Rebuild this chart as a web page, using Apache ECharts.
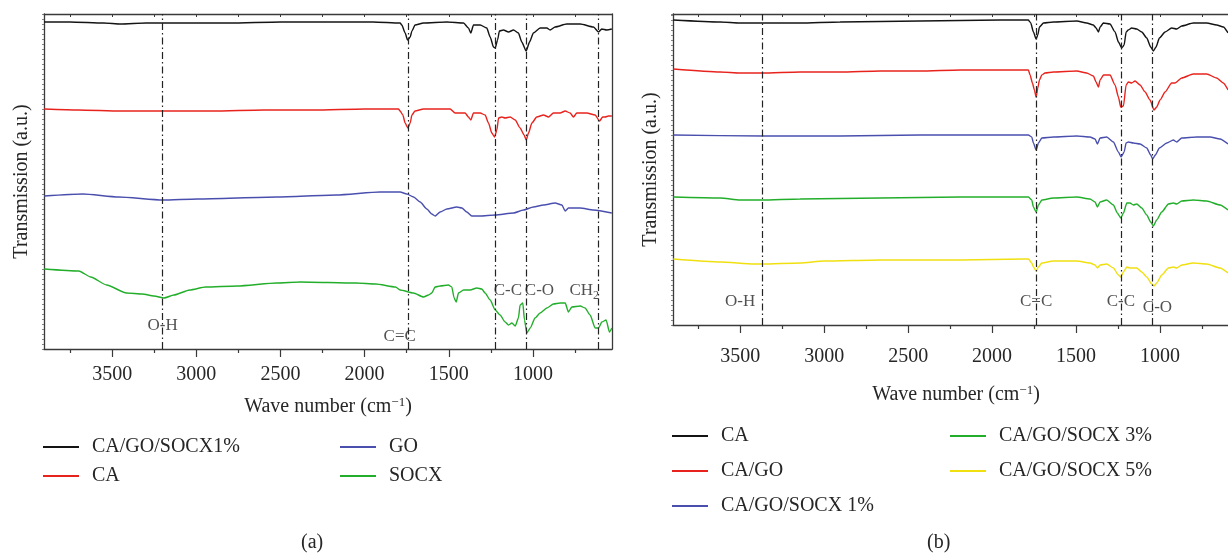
<!DOCTYPE html>
<html><head><meta charset="utf-8">
<script src="https://cdn.jsdelivr.net/npm/echarts@6/dist/echarts.min.js"></script>
<style>html,body{margin:0;padding:0;background:#fff}#c{width:1228px;height:553px}</style>
</head><body><div id="c"></div>
<script>
// ---------- data ----------
const majorTicks = [1000, 1500, 2000, 2500, 3000, 3500];
const minorTicks = [750, 1250, 1750, 2250, 2750, 3250, 3750];
const allTicks = [750, 1000, 1250, 1500, 1750, 2000, 2250, 2500, 2750, 3000, 3250, 3500, 3750];

const namesA = ['CA/GO/SOCX1%', 'CA', 'GO', 'SOCX'];
const namesB = ['CA', 'CA/GO', 'CA/GO/SOCX 1%', 'CA/GO/SOCX 3%', 'CA/GO/SOCX 5%'];

const peaksA = [3200, 1738, 1226, 1038, 612];
const peakLabelsA = ['O-H', 'C=C', 'C-C', 'C-O', 'CH{s|2}'];
const peaksB = [3369, 1738, 1233, 1045];
const peakLabelsB = ['O-H', 'C=C', 'C-C', 'C-O'];

// panel (a) spectra: [wave number, transmission (a.u.)]
const a_cagosocx1 = [[3904,327],[3750,327],[3550,326],[3450,325],[3300,326],[3200,326],[3000,326],[2800,326],[2500,327],[2200,327],[1950,327],[1789,326],[1779,324],[1759,316],[1745,309],[1729,312],[1719,318],[1700,324],[1650,326],[1512,327],[1412,326],[1383,321],[1369,316],[1353,324],[1313,324],[1274,321],[1254,312],[1234,302],[1224,301],[1210,309],[1199,318],[1175,319],[1145,317],[1115,319],[1086,316],[1066,307],[1040,298],[1020,307],[997,316],[957,321],[917,321],[898,319],[868,322],[799,325],[719,325],[640,322],[610,317],[591,320],[561,319],[531,320]];
const a_ca = [[3904,240],[3700,239],[3450,238],[3200,238],[2900,238],[2600,239],[2300,239],[2000,240],[1908,240],[1799,240],[1789,238],[1773,234],[1759,226],[1743,221],[1729,226],[1719,234],[1700,238],[1650,240],[1492,240],[1462,236],[1403,236],[1383,232],[1369,229],[1353,236],[1313,236],[1284,234],[1264,226],[1244,216],[1228,212],[1214,219],[1204,231],[1185,232],[1165,231],[1135,232],[1105,229],[1076,221],[1052,214],[1040,209],[1026,216],[1006,226],[977,232],[937,234],[907,232],[878,236],[838,236],[808,238],[779,236],[759,232],[739,236],[680,236],[630,234],[604,228],[585,232],[571,232],[551,233],[531,233]];
const a_go = [[3904,153],[3674,155],[3462,152],[3200,149],[2992,150],[2522,152],[2169,154],[1908,157],[1789,157],[1749,155],[1709,152],[1670,147],[1630,140],[1601,135],[1581,133],[1551,137],[1511,140],[1452,142],[1422,141],[1393,137],[1363,133],[1313,133],[1224,134],[1115,136],[1056,139],[997,142],[937,144],[868,146],[828,144],[808,138],[789,141],[719,141],[640,139],[531,136]];
const a_socx = [[3904,80],[3698,78],[3627,72],[3533,64],[3415,56],[3321,55],[3251,53],[3192,51],[3133,54],[3039,59],[2945,62],[2757,63],[2522,66],[2381,67],[2051,66],[1934,65],[1816,62],[1789,59],[1710,56],[1650,52],[1620,54],[1601,56],[1581,62],[1551,63],[1502,64],[1482,62],[1468,51],[1456,47],[1442,56],[1412,59],[1373,59],[1333,61],[1304,60],[1284,56],[1254,49],[1224,39],[1195,34],[1165,27],[1145,24],[1125,26],[1105,23],[1086,31],[1076,44],[1060,46],[1050,29],[1036,16],[1016,21],[987,31],[957,36],[917,41],[878,45],[838,46],[808,46],[789,37],[769,42],[719,43],[690,41],[660,34],[630,21],[610,21],[590,27],[565,29],[545,17],[531,21]];

// panel (b) spectra
const b_ca = [[3898,305],[3619,303],[3500,302],[3369,302],[3143,302],[2905,303],[2429,304],[1952,305],[1784,305],[1770,302],[1754,293],[1738,286],[1728,290],[1718,298],[1694,302],[1635,303],[1496,304],[1437,302],[1397,300],[1381,297],[1367,293],[1357,298],[1337,302],[1298,301],[1268,293],[1248,283],[1228,277],[1214,280],[1202,293],[1189,295],[1169,297],[1139,296],[1109,293],[1079,287],[1056,278],[1040,274],[1024,278],[1004,287],[970,293],[931,297],[901,296],[871,299],[802,302],[722,302],[663,300],[623,298],[595,292]];
const b_cago = [[3898,256],[3619,253],[3500,252],[3369,252],[3143,253],[2905,253],[2667,254],[2429,254],[2190,255],[1952,255],[1784,255],[1774,250],[1760,242],[1748,235],[1738,228],[1728,237],[1718,245],[1704,250],[1685,252],[1635,253],[1496,254],[1437,252],[1397,249],[1381,243],[1367,238],[1357,245],[1337,250],[1298,250],[1268,240],[1248,228],[1234,218],[1218,219],[1202,240],[1189,243],[1169,242],[1149,244],[1119,240],[1089,233],[1060,225],[1036,215],[1020,218],[1000,225],[970,233],[931,242],[911,242],[871,247],[802,251],[722,251],[663,247],[623,242],[595,235]];
const b_socx1 = [[3898,190],[3369,189],[2905,189],[2429,190],[1952,190],[1784,190],[1764,188],[1754,182],[1738,175],[1724,182],[1704,187],[1635,188],[1496,189],[1417,188],[1387,186],[1373,181],[1357,187],[1318,188],[1278,183],[1248,173],[1232,168],[1214,173],[1202,182],[1189,183],[1159,182],[1119,181],[1079,177],[1056,170],[1044,166],[1028,170],[1004,177],[960,182],[921,185],[901,183],[871,187],[782,188],[702,188],[643,186],[595,181]];
const b_socx3 = [[3898,128],[3619,127],[3500,125],[3369,125],[3143,126],[2667,127],[2190,128],[1810,128],[1784,128],[1764,125],[1754,118],[1738,113],[1724,120],[1704,125],[1635,127],[1496,128],[1417,126],[1387,123],[1373,118],[1357,123],[1318,125],[1278,120],[1254,112],[1234,107],[1218,112],[1198,122],[1179,122],[1159,120],[1139,121],[1109,117],[1079,110],[1056,103],[1040,99],[1020,105],[990,113],[950,121],[921,122],[901,121],[871,124],[802,125],[722,124],[643,120],[595,115]];
const b_socx5 = [[3898,66],[3619,63],[3417,61],[3369,61],[3143,62],[3000,64],[2667,65],[2190,65],[1810,66],[1784,66],[1764,62],[1754,58],[1738,54],[1724,58],[1704,62],[1635,64],[1496,64],[1417,62],[1387,60],[1373,57],[1357,60],[1318,61],[1278,57],[1248,50],[1234,48],[1218,53],[1198,58],[1179,57],[1159,57],[1139,57],[1109,53],[1079,48],[1050,41],[1036,39],[1020,42],[990,50],[950,57],[921,58],[901,57],[871,60],[802,62],[722,61],[643,57],[595,52]];

// ---------- style ----------
const FONT = '"Liberation Serif", "DejaVu Serif", serif';
const TXT = '#262626';
const AX = '#3a3a3a';
const colorsA = ['#141414', '#e8231d', '#4a4fae', '#22ae2a'];
const colorsB = ['#141414', '#e8231d', '#4a4fae', '#22ae2a', '#f0e010'];
const dataA = [a_cagosocx1, a_ca, a_go, a_socx];
const dataB = [b_ca, b_cago, b_socx1, b_socx3, b_socx5];

const grids = [
  {left: 44, top: 14, width: 568, height: 335, outerBoundsMode: 'none'},   // 0 panel a
  {left: 44, top: 14, width: 568, height: 335, outerBoundsMode: 'none'},   // 1 panel a (minor ticks)
  {left: 673, top: 14, width: 566, height: 311, outerBoundsMode: 'none'},  // 2 panel b
  {left: 673, top: 14, width: 566, height: 311, outerBoundsMode: 'none'}   // 3 panel b (minor ticks)
];
const X = {a: [530, 3905], b: [530, 3900]};
const Y = {a: 335, b: 311};

function xMain(gi, ext, gap, nameGap) {
  return {
    type: 'value', gridIndex: gi, inverse: true, min: ext[0], max: ext[1], position: 'bottom',
    axisLine: {onZero: false, lineStyle: {color: AX, width: 1.3}},
    axisTick: {customValues: majorTicks, length: 8, lineStyle: {color: AX, width: 1.2}},
    axisLabel: {customValues: majorTicks, margin: gap, fontSize: 20, fontFamily: FONT, color: TXT,
      formatter: v => String(v)},
    splitLine: {show: false},
    name: 'Wave number (cm{sup|−1})', nameLocation: 'middle', nameGap: nameGap,
    nameTextStyle: {fontSize: 20, fontFamily: FONT, color: TXT,
      rich: {sup: {fontSize: 13, fontFamily: FONT, color: TXT, verticalAlign: 'bottom', padding: [0, 0, 9, 0]}}}
  };
}
function xTop(gi, ext) {
  return {
    type: 'value', gridIndex: gi, inverse: true, min: ext[0], max: ext[1], position: 'top',
    axisLine: {onZero: false, lineStyle: {color: AX, width: 1.3}},
    axisTick: {customValues: allTicks, inside: true, length: 3, lineStyle: {color: AX}},
    axisLabel: {show: false}, splitLine: {show: false}
  };
}
function xMinor(gi, ext) {
  return {
    type: 'value', gridIndex: gi, inverse: true, min: ext[0], max: ext[1], position: 'bottom',
    axisLine: {show: false, onZero: false},
    axisTick: {customValues: minorTicks, length: 4, lineStyle: {color: AX, width: 1.2}},
    axisLabel: {show: false}, splitLine: {show: false}
  };
}
function yLeft(gi, max, gap) {
  return {
    type: 'value', gridIndex: gi, min: 0, max: max, interval: 5, position: 'left',
    axisLine: {show: true, onZero: false, lineStyle: {color: AX, width: 1.3}},
    axisTick: {show: true, length: 2, lineStyle: {color: '#666', width: 0.8}},
    axisLabel: {show: false}, splitLine: {show: false},
    name: 'Transmission (a.u.)', nameLocation: 'middle', nameGap: gap, nameRotate: 90,
    nameTextStyle: {fontSize: 20, fontFamily: FONT, color: TXT}
  };
}
function yRight(gi, max) {
  return {
    type: 'value', gridIndex: gi, min: 0, max: max, position: 'right',
    axisLine: {show: true, onZero: false, lineStyle: {color: AX, width: 1.3}},
    axisTick: {show: false}, axisLabel: {show: false}, splitLine: {show: false}
  };
}
function yHidden(gi, max) {
  return {type: 'value', gridIndex: gi, min: 0, max: max, show: false};
}

const xAxis = [
  xMain(0, X.a, 16, 47), xTop(0, X.a), xMinor(1, X.a),
  xMain(2, X.b, 22, 59), xTop(2, X.b), xMinor(3, X.b)
];
const yAxis = [
  yLeft(0, Y.a, 12), yRight(0, Y.a), yHidden(1, Y.a),
  yLeft(2, Y.b, 12), yRight(2, Y.b), yHidden(3, Y.b)
];

const dashStyle = {color: '#222', width: 1.2, type: [7, 3, 1.5, 3]};
const series = [];
function addPanel(prefix, names, colors, datas, xi, yi, peaks) {
  names.forEach((n, i) => {
    const s = {
      type: 'line', name: prefix + n, xAxisIndex: xi, yAxisIndex: yi, data: datas[i],
      showSymbol: false, symbol: 'none', smooth: 0.2, smoothMonotone: 'x',
      lineStyle: {color: colors[i], width: 1.4}, itemStyle: {color: colors[i]},
      emphasis: {disabled: true}, animation: false
    };
    if (i === 0) {
      s.markLine = {silent: true, symbol: 'none', label: {show: false}, lineStyle: dashStyle,
        animation: false, data: peaks.map(w => ({xAxis: w}))};
    }
    series.push(s);
  });
}
addPanel('a:', namesA, colorsA, dataA, 0, 0, peaksA);
addPanel('b:', namesB, colorsB, dataB, 3, 3, peaksB);

// peak annotations (placement kept with the styling)
const annA = [[peaksA[0], 23, 0], [peaksA[1], 12, -9], [peaksA[2], 58, 13], [peaksA[3], 58, 13], [peaksA[4], 58, -14]];
const annB = [[peaksB[0], 23, -22], [peaksB[1], 23, 0], [peaksB[2], 23, 0], [peaksB[3], 17, 5]];
function annSeries(ann, labels, xi, yi) {
  return {
    type: 'scatter', xAxisIndex: xi, yAxisIndex: yi, symbolSize: 1, silent: true, animation: false,
    itemStyle: {color: 'rgba(0,0,0,0)'}, z: 5,
    label: {show: true, position: 'inside', fontSize: 17, fontFamily: FONT, color: TXT,
      formatter: p => p.name, rich: {s: {fontSize: 12, fontFamily: FONT, color: TXT, padding: [10, 0, 0, 0]}}},
    data: ann.map((a, i) => ({name: labels[i], value: [a[0], a[1]], label: {offset: [a[2], 0]}}))
  };
}
series.push(annSeries(annA, peakLabelsA, 0, 0));
series.push(annSeries(annB, peakLabelsB, 3, 3));

const legendBase = {
  orient: 'vertical', icon: 'rect', itemWidth: 36, itemHeight: 2, padding: 0,
  selectedMode: false, formatter: n => n.slice(2),
  textStyle: {fontSize: 20, fontFamily: FONT, color: TXT, lineHeight: 20, padding: [0, 0, 0, 8]}
};
const legend = [
  Object.assign({}, legendBase, {left: 43, top: 437, itemGap: 9, data: ['a:' + namesA[0], 'a:' + namesA[1]]}),
  Object.assign({}, legendBase, {left: 340, top: 437, itemGap: 9, data: ['a:' + namesA[2], 'a:' + namesA[3]]}),
  Object.assign({}, legendBase, {left: 672, top: 426, itemGap: 15, data: namesB.slice(0, 3).map(n => 'b:' + n)}),
  Object.assign({}, legendBase, {left: 950, top: 426, itemGap: 15, data: namesB.slice(3).map(n => 'b:' + n)})
];

const title = [
  {text: '(a)', left: 301, top: 533, padding: 0, textStyle: {fontSize: 20, fontWeight: 'normal', fontFamily: FONT, color: TXT}},
  {text: '(b)', left: 927, top: 533, padding: 0, textStyle: {fontSize: 20, fontWeight: 'normal', fontFamily: FONT, color: TXT}}
];

const chart = echarts.init(document.getElementById('c'), null, {renderer: 'canvas'});
chart.setOption({
  backgroundColor: '#fff', animation: false,
  grid: grids, xAxis: xAxis, yAxis: yAxis, series: series, legend: legend, title: title
});
</script></body></html>
